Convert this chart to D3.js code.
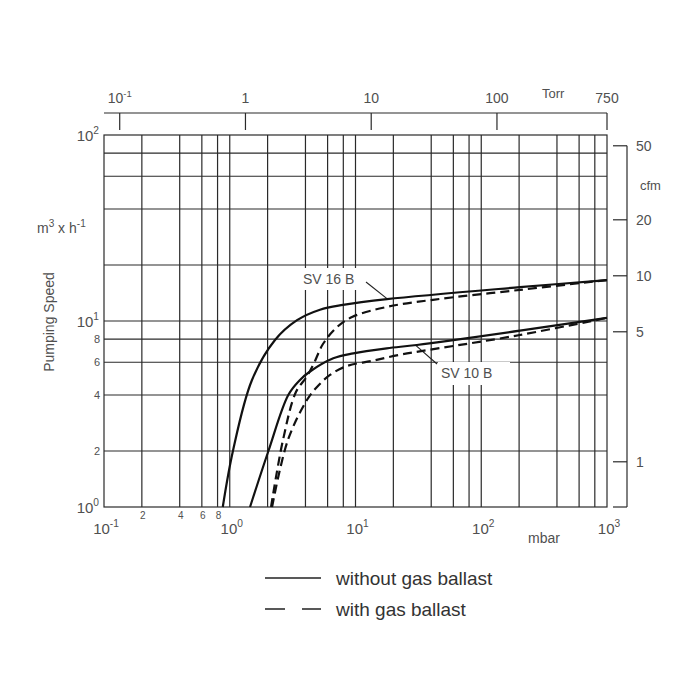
<!DOCTYPE html>
<html>
<head>
<meta charset="utf-8">
<script src="https://cdn.jsdelivr.net/npm/d3@7"></script>
<style>
	body { margin: 0; background: #fff; }
	text { font-family: "Liberation Sans", Arial, sans-serif; fill: #505050; }
	.grid { stroke: #2a2a2a; stroke-width: 1.2; fill: none; }
	.curve { stroke: #111; stroke-width: 2.2; fill: none; }
</style>
</head>
<body>
<script>
// pressure gridlines (mbar) and speed gridlines (m3/h)
let xGrid = [0.2, 0.4, 0.6, 0.8, 1, 2, 4, 6, 8, 10, 20, 40, 60, 80, 100, 200, 400, 600, 800];
let yGrid = [2, 4, 6, 8, 10, 20, 40, 60, 80];
let xSmallTicks = [2, 4, 6, 8];          // x 0.2 .. 0.8 labelled by first digit
let ySmallTicks = [2, 4, 6, 8];
let torrTicks = [0.1, 1, 10, 100, 750];
let torrLabels = ["10^-1", "1", "10", "100", "750"];
let cfmTicks = [50, 20, 10, 5, 1];

// curves: [pressure mbar, speed m3/h]
let sv16Solid = [[0.88, 1], [1.06, 2], [1.5, 4.8], [2.29, 7.9], [3.43, 10.1],
	[5.22, 11.5], [7.95, 12.2], [17.8, 13.1], [203, 15.2], [1000, 16.6]];
let sv16Dash = [[2.13, 1], [2.65, 2.29], [3.36, 4.15], [4.09, 5.02], [4.68, 5.94], [5.51, 7.52], [7.0, 9.17],
	[9.38, 10.5], [17.7, 11.9], [41.3, 13.0], [203, 14.7], [1000, 16.6]];
let sv10Solid = [[1.45, 1], [2.03, 2], [2.92, 4], [3.62, 4.82], [4.35, 5.35], [6.66, 6.3], [9.6, 6.7],
	[17.7, 7.13], [30.7, 7.43], [203, 8.87], [1000, 10.4]];
let sv10Dash = [[2.17, 1], [2.9, 2.29], [4.11, 3.76], [4.94, 4.42], [6.27, 5.13], [8.56, 5.73], [13.5, 6.1],
	[21.8, 6.56], [37.7, 6.98], [203, 8.41], [1000, 10.4]];

let torrToMbar = 1000 / 750;
let cfmToM3h = 1.75;

let width = 700, height = 700;

let x = d3.scaleLog().domain([0.1, 1000]).range([104, 607]);
let y = d3.scaleLog().domain([1, 100]).range([507, 135]);

let svg = d3.select("body").append("svg")
	.attr("width", width)
	.attr("height", height);

// grid
let grid = svg.append("g");
grid.selectAll(".vg")
	.data(xGrid)
	.enter().append("line")
	.attr("class", "grid")
	.attr("x1", d => x(d)).attr("x2", d => x(d))
	.attr("y1", y(100)).attr("y2", y(1));
grid.selectAll(".hg")
	.data(yGrid)
	.enter().append("line")
	.attr("class", "grid")
	.attr("x1", x(0.1)).attr("x2", x(1000))
	.attr("y1", d => y(d)).attr("y2", d => y(d));
grid.append("rect")
	.attr("class", "grid")
	.attr("x", x(0.1)).attr("y", y(100))
	.attr("width", x(1000) - x(0.1))
	.attr("height", y(1) - y(100));

// power-of-ten label helper
let powLabel = (sel, base, exp, size) => {
	sel.append("tspan").text(base);
	sel.append("tspan").attr("dy", -size * 0.45).attr("font-size", size * 0.68).text(exp);
};

// left axis labels
[[100, "2"], [10, "1"], [1, "0"]].forEach(([v, e]) => {
	let t = svg.append("text")
		.attr("x", x(0.1) - 5)
		.attr("y", y(v) + 6)
		.attr("text-anchor", "end")
		.attr("font-size", 15);
	powLabel(t, "10", e, 15);
});
svg.selectAll(".ysmall")
	.data(ySmallTicks)
	.enter().append("text")
	.attr("x", x(0.1) - 4)
	.attr("y", d => y(d) + 4)
	.attr("text-anchor", "end")
	.attr("font-size", 11)
	.text(d => d);

let unit = svg.append("text")
	.attr("x", 37).attr("y", 233)
	.attr("font-size", 14);
unit.append("tspan").text("m");
unit.append("tspan").attr("dy", -6).attr("font-size", 10).text("3");
unit.append("tspan").attr("dy", 6).text(" x  h");
unit.append("tspan").attr("dy", -6).attr("font-size", 10).text("-1");

svg.append("text")
	.attr("transform", "translate(54,322) rotate(-90)")
	.attr("text-anchor", "middle")
	.attr("font-size", 14)
	.text("Pumping Speed");

// bottom axis labels
[[0.1, "-1"], [1, "0"], [10, "1"], [100, "2"], [1000, "3"]].forEach(([v, e]) => {
	let t = svg.append("text")
		.attr("x", x(v) + 2)
		.attr("y", y(1) + 27)
		.attr("text-anchor", "middle")
		.attr("font-size", 15);
	powLabel(t, "10", e, 15);
});
svg.selectAll(".xsmall")
	.data(xSmallTicks)
	.enter().append("text")
	.attr("x", d => x(d / 10) + 1)
	.attr("y", y(1) + 12)
	.attr("text-anchor", "middle")
	.attr("font-size", 10)
	.text(d => d);
svg.append("text")
	.attr("x", 528).attr("y", 543)
	.attr("font-size", 14)
	.text("mbar");

// top Torr axis
let topY = 113;
svg.append("line").attr("class", "grid")
	.attr("x1", x(0.1)).attr("x2", x(1000))
	.attr("y1", topY).attr("y2", topY);
svg.selectAll(".ttick")
	.data(torrTicks)
	.enter().append("line")
	.attr("class", "grid")
	.attr("x1", d => x(d * torrToMbar)).attr("x2", d => x(d * torrToMbar))
	.attr("y1", topY).attr("y2", topY + 17);
torrTicks.forEach((d, i) => {
	let t = svg.append("text")
		.attr("x", x(d * torrToMbar))
		.attr("y", topY - 10)
		.attr("text-anchor", "middle")
		.attr("font-size", 14);
	let lab = torrLabels[i];
	if (lab.indexOf("^") > 0) {
		let [b, e] = lab.split("^");
		powLabel(t, b, e, 14);
	} else {
		t.text(lab);
	}
});
svg.append("text")
	.attr("x", 542).attr("y", 98)
	.attr("font-size", 13)
	.text("Torr");

// right cfm axis
let rX = 627;
svg.append("line").attr("class", "grid")
	.attr("x1", rX).attr("x2", rX)
	.attr("y1", y(50 * cfmToM3h)).attr("y2", y(1));
svg.append("line").attr("class", "grid")
	.attr("x1", rX - 14).attr("x2", rX)
	.attr("y1", y(1)).attr("y2", y(1));
svg.selectAll(".ctick")
	.data(cfmTicks)
	.enter().append("line")
	.attr("class", "grid")
	.attr("x1", rX - 14).attr("x2", rX)
	.attr("y1", d => y(d * cfmToM3h)).attr("y2", d => y(d * cfmToM3h));
svg.selectAll(".clab")
	.data(cfmTicks)
	.enter().append("text")
	.attr("x", rX + 9)
	.attr("y", d => y(d * cfmToM3h) + 5)
	.attr("font-size", 14)
	.text(d => d);
svg.append("text")
	.attr("x", rX + 13).attr("y", 190)
	.attr("font-size", 13)
	.text("cfm");

// curve labels on white boxes
let labels = [
	{ name: "SV 16 B", bx: 300, by: 268, bw: 60, bh: 22, from: [366, 282], to: [18, 13.1] },
	{ name: "SV 10 B", bx: 438, by: 362, bw: 72, bh: 23, from: [437, 364], to: [30, 7.42] }
];
labels.forEach(l => {
	svg.append("rect")
		.attr("x", l.bx).attr("y", l.by)
		.attr("width", l.bw).attr("height", l.bh)
		.attr("fill", "#fff");
	svg.append("text")
		.attr("x", l.bx + 3).attr("y", l.by + 16)
		.attr("font-size", 14)
		.text(l.name);
	svg.append("line")
		.attr("x1", l.from[0]).attr("y1", l.from[1])
		.attr("x2", x(l.to[0])).attr("y2", y(l.to[1]))
		.attr("stroke", "#222").attr("stroke-width", 1.1);
});

// curves
let line = d3.line()
	.x(d => x(d[0]))
	.y(d => y(d[1]))
	.curve(d3.curveCatmullRom.alpha(0.5));

[[sv16Solid, null], [sv10Solid, null], [sv16Dash, "9,5"], [sv10Dash, "9,5"]].forEach(([data, dash]) => {
	svg.append("path")
		.attr("class", "curve")
		.attr("d", line(data))
		.attr("stroke-dasharray", dash);
});

// legend
let legend = svg.append("g");
legend.append("line")
	.attr("x1", 265).attr("x2", 321).attr("y1", 578).attr("y2", 578)
	.attr("stroke", "#222").attr("stroke-width", 1.6);
legend.append("line")
	.attr("x1", 265).attr("x2", 321).attr("y1", 609).attr("y2", 609)
	.attr("stroke", "#222").attr("stroke-width", 1.6)
	.attr("stroke-dasharray", "20,17");
legend.append("text")
	.attr("x", 336).attr("y", 585)
	.attr("font-size", 19)
	.style("fill", "#333")
	.text("without gas ballast");
legend.append("text")
	.attr("x", 336).attr("y", 616)
	.attr("font-size", 19)
	.style("fill", "#333")
	.text("with gas ballast");
</script>
</body>
</html>
